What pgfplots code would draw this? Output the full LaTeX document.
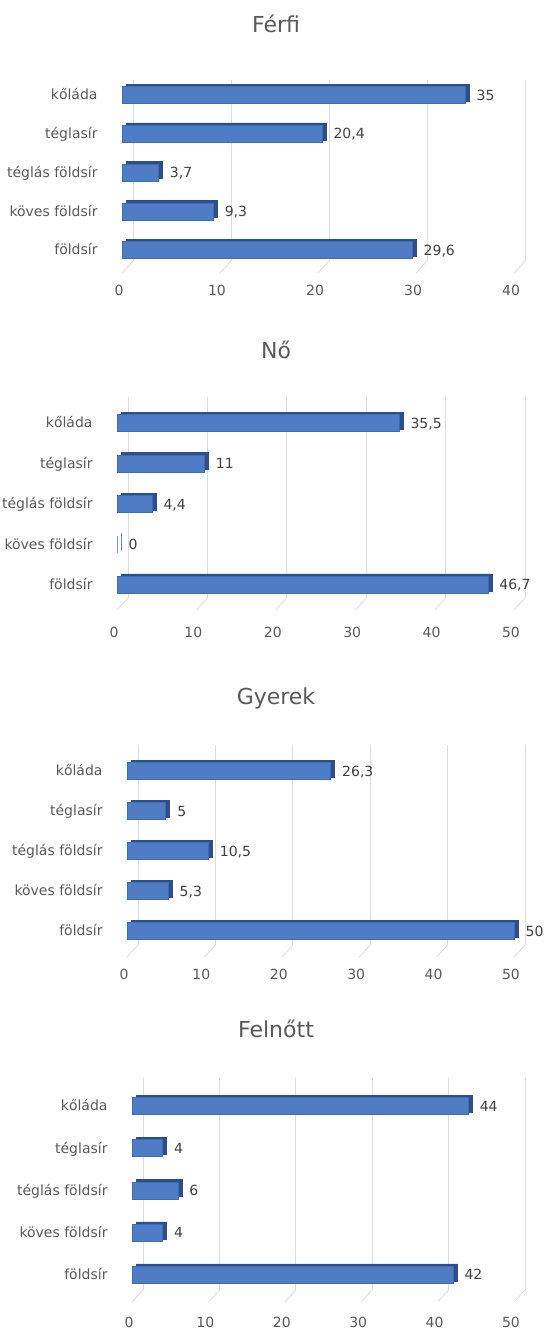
\documentclass[border=0pt]{standalone}
\usepackage{fontspec}
\setmainfont{DejaVu Sans}
\usepackage{pgfplots}
\usepackage{pgfplotstable}
\pgfplotsset{compat=1.18}

\definecolor{barc}{HTML}{4F7DC5}
\definecolor{edgec}{HTML}{3F6BB4}
\definecolor{sidec}{HTML}{2C4E8D}
\definecolor{gridc}{HTML}{DCDCDC}
\definecolor{labc}{HTML}{595959}
\definecolor{valc}{HTML}{404040}

% y: 0 = földsír ... 4 = kőláda
\pgfplotstableread{
cat val
0 29.6
1 9.3
2 3.7
3 20.4
4 35
}\ferfi
\pgfplotstableread{
cat val
0 46.7
1 0
2 4.4
3 11
4 35.5
}\no
\pgfplotstableread{
cat val
0 50
1 5.3
2 10.5
3 5
4 26.3
}\gyerek
\pgfplotstableread{
cat val
0 42
1 4
2 6
3 4
4 44
}\felnott

\pgfplotsset{
  panel/.style={
    xbar, bar width=17pt, bar shift=0pt,
    scale only axis, anchor=south west, clip=false,
    axis line style={draw=none}, tick style={draw=none},
    xmin=0, ytick={0,...,4},
    yticklabels={földsír,köves földsír,téglás földsír,téglasír,kőláda},
    xmajorgrids,
    major grid style={gridc, line width=0.8pt, xshift=11pt, yshift=12pt},
    ticklabel style={text=labc},
    yticklabel style={anchor=base east, inner sep=0pt, xshift=-20pt, yshift=-4.8pt,
      font=\fontsize{14}{16}\selectfont},
    xticklabel style={anchor=center, inner sep=0pt, xshift=-3pt,
      font=\fontsize{14}{16}\selectfont},
    /pgf/number format/assume math mode=true,
    /pgf/number format/use comma,
    /pgf/number format/fixed,
    /pgf/number format/precision=1,
  },
  back/.style={fill=sidec, draw=sidec, line width=0.5pt, xshift=4pt, yshift=2.5pt, bar shift=0pt},
  front/.style={fill=barc, draw=edgec, line width=0.6pt, bar shift=0pt,
    point meta=x, nodes near coords,
    every node near coord/.append style={anchor=base west, xshift=8pt, yshift=-5pt,
      font=\fontsize{14}{16}\selectfont, text=valc}},
}

\begin{document}
\begin{tikzpicture}
\path[use as bounding box] (0,0) rectangle (543pt,-1329pt);

% Férfi
\begin{axis}[panel, at={(122pt,-273pt)}, width=392pt, height=181pt,
  xmax=40, xtick={0,10,...,40}, ymin=-0.59, ymax=4.08,
  xticklabel style={yshift=-17pt}]
  \pgfplotsinvokeforeach{0,10,...,40}{
    \draw[gridc, line width=0.8pt] (axis cs:#1,-0.59) -- ++(11pt,12pt);}
  \addplot[back] table[x=val, y=cat] {\ferfi};
  \addplot[front] table[x=val, y=cat] {\ferfi};
\end{axis}

% Nő
\begin{axis}[panel, at={(117pt,-610pt)}, width=397pt, height=201pt,
  xmax=50, xtick={0,10,...,50}, ymin=-0.62, ymax=4.35,
  xticklabel style={yshift=-22pt}]
  \pgfplotsinvokeforeach{0,10,...,50}{
    \draw[gridc, line width=0.8pt] (axis cs:#1,-0.62) -- ++(11pt,12pt);}
  \addplot[back] table[x=val, y=cat] {\no};
  \addplot[front] table[x=val, y=cat] {\no};
\end{axis}

% Gyerek
\begin{axis}[panel, at={(127pt,-957pt)}, width=387pt, height=200pt,
  xmax=50, xtick={0,10,...,50}, ymin=-0.65, ymax=4.35,
  xticklabel style={yshift=-17pt}]
  \pgfplotsinvokeforeach{0,10,...,50}{
    \draw[gridc, line width=0.8pt] (axis cs:#1,-0.65) -- ++(11pt,12pt);}
  \addplot[back] table[x=val, y=cat] {\gyerek};
  \addplot[front] table[x=val, y=cat] {\gyerek};
\end{axis}

% Felnőtt
\begin{axis}[panel, at={(132pt,-1302pt)}, width=382pt, height=212pt,
  xmax=50, xtick={0,10,...,50}, ymin=-0.64, ymax=4.38,
  xticklabel style={yshift=-20pt}]
  \pgfplotsinvokeforeach{0,10,...,50}{
    \draw[gridc, line width=0.8pt] (axis cs:#1,-0.64) -- ++(11pt,12pt);}
  \addplot[back] table[x=val, y=cat] {\felnott};
  \addplot[front] table[x=val, y=cat] {\felnott};
\end{axis}

\begin{scope}[every node/.style={font=\fontsize{22}{26}\selectfont, text=labc, anchor=base}]
  \node at (276pt,-33pt) {Férfi};
  \node at (276pt,-358pt) {Nő};
  \node at (276pt,-704pt) {Gyerek};
  \node at (276pt,-1037pt) {Felnőtt};
\end{scope}
\end{tikzpicture}
\end{document}
